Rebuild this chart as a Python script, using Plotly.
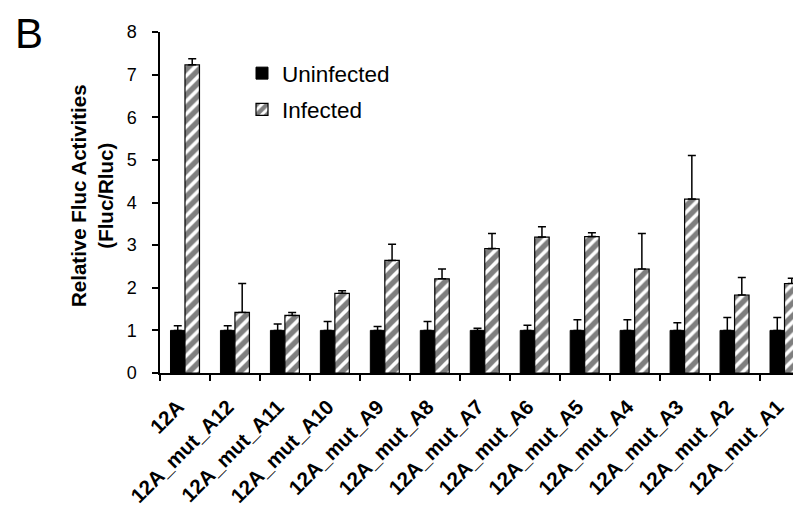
import plotly.graph_objects as go

categories = ["12A", "12A_mut_A12", "12A_mut_A11", "12A_mut_A10", "12A_mut_A9", "12A_mut_A8",
              "12A_mut_A7", "12A_mut_A6", "12A_mut_A5", "12A_mut_A4", "12A_mut_A3", "12A_mut_A2",
              "12A_mut_A1"]
uninfected = [1.0, 1.0, 1.0, 1.0, 1.0, 1.0, 1.0, 1.0, 1.0, 1.0, 1.0, 1.0, 1.0]
uninfected_err = [0.11, 0.11, 0.15, 0.21, 0.09, 0.21, 0.05, 0.12, 0.25, 0.25, 0.18, 0.30, 0.30]
infected = [7.23, 1.42, 1.35, 1.87, 2.64, 2.21, 2.92, 3.19, 3.20, 2.44, 4.08, 1.83, 2.10]
infected_err = [0.14, 0.68, 0.07, 0.06, 0.38, 0.23, 0.35, 0.24, 0.09, 0.83, 1.02, 0.41, 0.12]
y_ticks = [0, 1, 2, 3, 4, 5, 6, 7, 8]

FONT = "Liberation Sans, Arial, sans-serif"

# figure is drawn 8px in from the page edge; keep it inside the 801x508 window
FW, FH = 793, 500
L, T, W, H = 152, 24, 641, 341

fig = go.Figure()
fig.add_trace(go.Bar(
    name="Uninfected", x=categories, y=uninfected, legendgroup="u",
    marker=dict(color="black", line=dict(color="black", width=1)),
    error_y=dict(type="data", array=uninfected_err, arrayminus=[0] * len(uninfected_err),
                 symmetric=False, color="black", thickness=1.5, width=4),
))
fig.add_trace(go.Bar(
    name="Infected", x=categories, y=infected, legendgroup="i",
    marker=dict(color="white", line=dict(color="black", width=1.2),
                pattern=dict(shape="/", fgcolor="black", bgcolor="white", size=9, solidity=0.6)),
    error_y=dict(type="data", array=infected_err, arrayminus=[0] * len(infected_err),
                 symmetric=False, color="black", thickness=1.5, width=4),
))

fig.update_layout(
    width=FW, height=FH,
    margin=dict(l=L, r=FW - L - W, t=T, b=FH - T - H),
    paper_bgcolor="white", plot_bgcolor="white",
    barmode="group", bargap=0.42, bargroupgap=0,
    font=dict(family=FONT, color="black"),
    showlegend=True,
    legend=dict(x=(234 - L) / W, y=1 - (44 - T) / H, xanchor="left", yanchor="top",
                bgcolor="rgba(0,0,0,0)",
                font=dict(size=22.5, family=FONT), itemwidth=30, tracegroupgap=4),
    xaxis=dict(
        range=[-0.5, 12.33], showline=True, linecolor="black", linewidth=1.5,
        ticks="outside", tickson="boundaries", ticklen=6, tickcolor="black", tickwidth=1.5,
        tickangle=-45, tickfont=dict(size=20.5, family=FONT, weight="bold"), showgrid=False,
        ticklabelstandoff=12, ticklabelshift=-7,
        automargin=False,
    ),
    yaxis=dict(
        range=[0, 8], tickvals=y_ticks, showline=True, linecolor="black", linewidth=1.5,
        ticks="outside", ticklen=6, tickcolor="black", tickwidth=1.5, ticklabelstandoff=12,
        tickfont=dict(size=18, family=FONT), showgrid=False, zeroline=False,
        automargin=False,
    ),
)

fig.add_annotation(text="<b>Relative Fluc Activities<br>(Fluc/Rluc)</b>", textangle=-90,
                   xref="paper", yref="paper", x=(84 - L) / W, y=(T + H - 188) / H,
                   xanchor="center", yanchor="middle", showarrow=False,
                   font=dict(size=20.5, family=FONT))

fig.add_annotation(text="B", xref="paper", yref="paper", x=(5 - L) / W, y=1 + T / H,
                   xanchor="left", yanchor="top", showarrow=False,
                   font=dict(size=42, family=FONT))

fig.write_html("out.html")
